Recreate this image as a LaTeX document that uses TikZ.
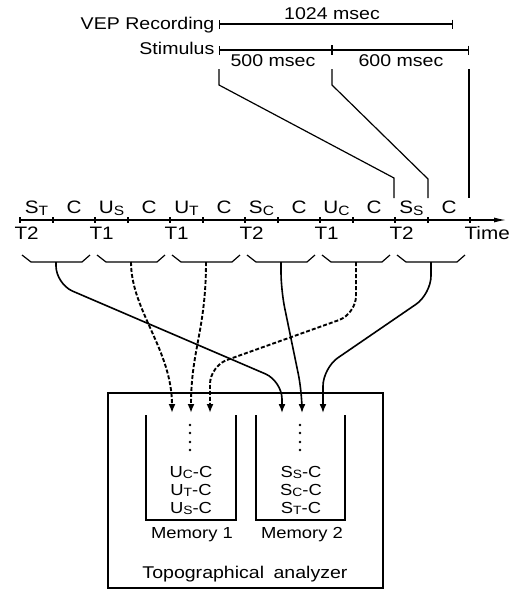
\documentclass[tikz,border=0pt]{standalone}
\usepackage{fontspec}
\setmainfont{Liberation Sans}[FakeStretch=1.15]
\usetikzlibrary{arrows.meta}
\newcommand{\sub}[1]{\raisebox{-0.12em}{\scalebox{0.75}{#1}}}

\begin{document}
\begin{tikzpicture}[x=1pt, y=-1pt, line width=1.2pt]
    \tikzset{
        toplabel/.style={inner sep=0pt, font=\fontsize{17}{20}\selectfont},
        axislabel/.style={inner sep=0pt, font=\fontsize{18}{21}\selectfont},
        memlabel/.style={inner sep=0pt, font=\fontsize{16}{19}\selectfont},
        timebar/.style={{Bar[width=9pt]}-{Bar[width=9pt]}},
        link/.style={line width=1.6pt, -{Latex[length=9pt,width=7pt]}, rounded corners=18pt},
        dashlink/.style={link, line width=1.9pt, dash pattern=on 4pt off 2pt}
    }
    \useasboundingbox (0,0) rectangle (514,590);

    % recording and stimulus bars
    \node[toplabel, anchor=base east] (vep) at (215,29) {VEP Recording};
    \node[toplabel, anchor=base east] (stim) at (215,54) {Stimulus};
    \coordinate (rec0) at (219,24);
    \coordinate (rec1) at (453,24);
    \coordinate (sti0) at (219,50);
    \coordinate (sti1) at (332,50);
    \coordinate (sti2) at (469,50);
    \draw[timebar] (rec0) -- (rec1);
    \draw[timebar] (sti0) -- (sti2);
    \draw (332,45) -- (332,55);
    \node[toplabel, anchor=base] (d1024) at (332,19) {1024 msec};
    \node[toplabel, anchor=base] (d500) at (273,66) {500 msec};
    \node[toplabel, anchor=base] (d600) at (401,66) {600 msec};

    % leads down to the time axis
    \draw (219,69) -- (219,85) -- (394,178) -- (394,198);
    \draw (332,69) -- (332,85) -- (428,179) -- (428,198);
    \draw (469,69) -- (469,198);

    % time axis
    \coordinate (t0) at (20,220);
    \coordinate (tend) at (506,220);
    \draw[-{Latex[length=12pt,width=5pt]}] (t0) -- (tend);
    \foreach \k/\stimname/\tname in {0/{S\sub{T}}/T2, 1/{U\sub{S}}/T1, 2/{U\sub{T}}/T1, 3/{S\sub{C}}/T2, 4/{U\sub{C}}/T1, 5/{S\sub{S}}/T2} {
        \pgfmathsetmacro\x{20+75*\k}
        \draw (\x,217) -- (\x,223);
        \draw (\x+33,217) -- (\x+33,223);
        \node[axislabel, anchor=base] (s\k) at (\x+16.5,213) {\stimname};
        \node[axislabel, anchor=base] (c\k) at (\x+54,213) {C};
        \node[axislabel, anchor=base west] (tl\k) at (\x-6,239) {\tname};
        \draw (\x+2,255) -- (\x+11,262) -- (\x+62,262) -- (\x+70,255);
        \coordinate (br\k) at (\x+36,262);
    }
    \draw (470,217) -- (470,223);
    \node[axislabel, anchor=base west] (time) at (464,239) {Time};

    % analyzer with its two memories
    \draw (108,393) rectangle (383,588);
    \draw (146,415) -- (146,520) -- (236,520) -- (236,415);
    \draw (256,415) -- (256,520) -- (345,520) -- (345,415);
    \foreach \y in {425,433,442,450} {
        \fill (190,\y) circle (1.3pt);
        \fill (300,\y) circle (1.3pt);
    }
    \node[memlabel, anchor=base] (uc) at (191,477) {U\sub{C}-C};
    \node[memlabel, anchor=base] (ut) at (191,495) {U\sub{T}-C};
    \node[memlabel, anchor=base] (us) at (191,513) {U\sub{S}-C};
    \node[memlabel, anchor=base] (ss) at (301,477) {S\sub{S}-C};
    \node[memlabel, anchor=base] (sc) at (301,495) {S\sub{C}-C};
    \node[memlabel, anchor=base] (st) at (301,513) {S\sub{T}-C};
    \node[memlabel, anchor=base] (mem1) at (192,538) {Memory 1};
    \node[memlabel, anchor=base] (mem2) at (302,538) {Memory 2};
    \node[toplabel, anchor=base] (topo) at (245,578) {Topographical\hspace{4pt} analyzer};

    \coordinate (in1a) at (172,413);
    \coordinate (in1b) at (191,413);
    \coordinate (in1c) at (210,413);
    \coordinate (in2a) at (282,413);
    \coordinate (in2b) at (302,413);
    \coordinate (in2c) at (323,413);

    % responses sorted into the memories
    \draw[link] (br0) -- (56,284) -- (282,381) -- (in2a);
    \draw[dashlink] (br1) .. controls (131,310) and (172,350) .. (in1a);
    \draw[dashlink] (br2) .. controls (206,330) and (191,350) .. (in1b);
    \draw[link] (br3) -- (281,290) -- (302,392) -- (in2b);
    \draw[dashlink] (br4) -- (356,314) -- (210,366) -- (in1c);
    \draw[link] (br5) -- (431,294) -- (323,368) -- (in2c);
\end{tikzpicture}
\end{document}
